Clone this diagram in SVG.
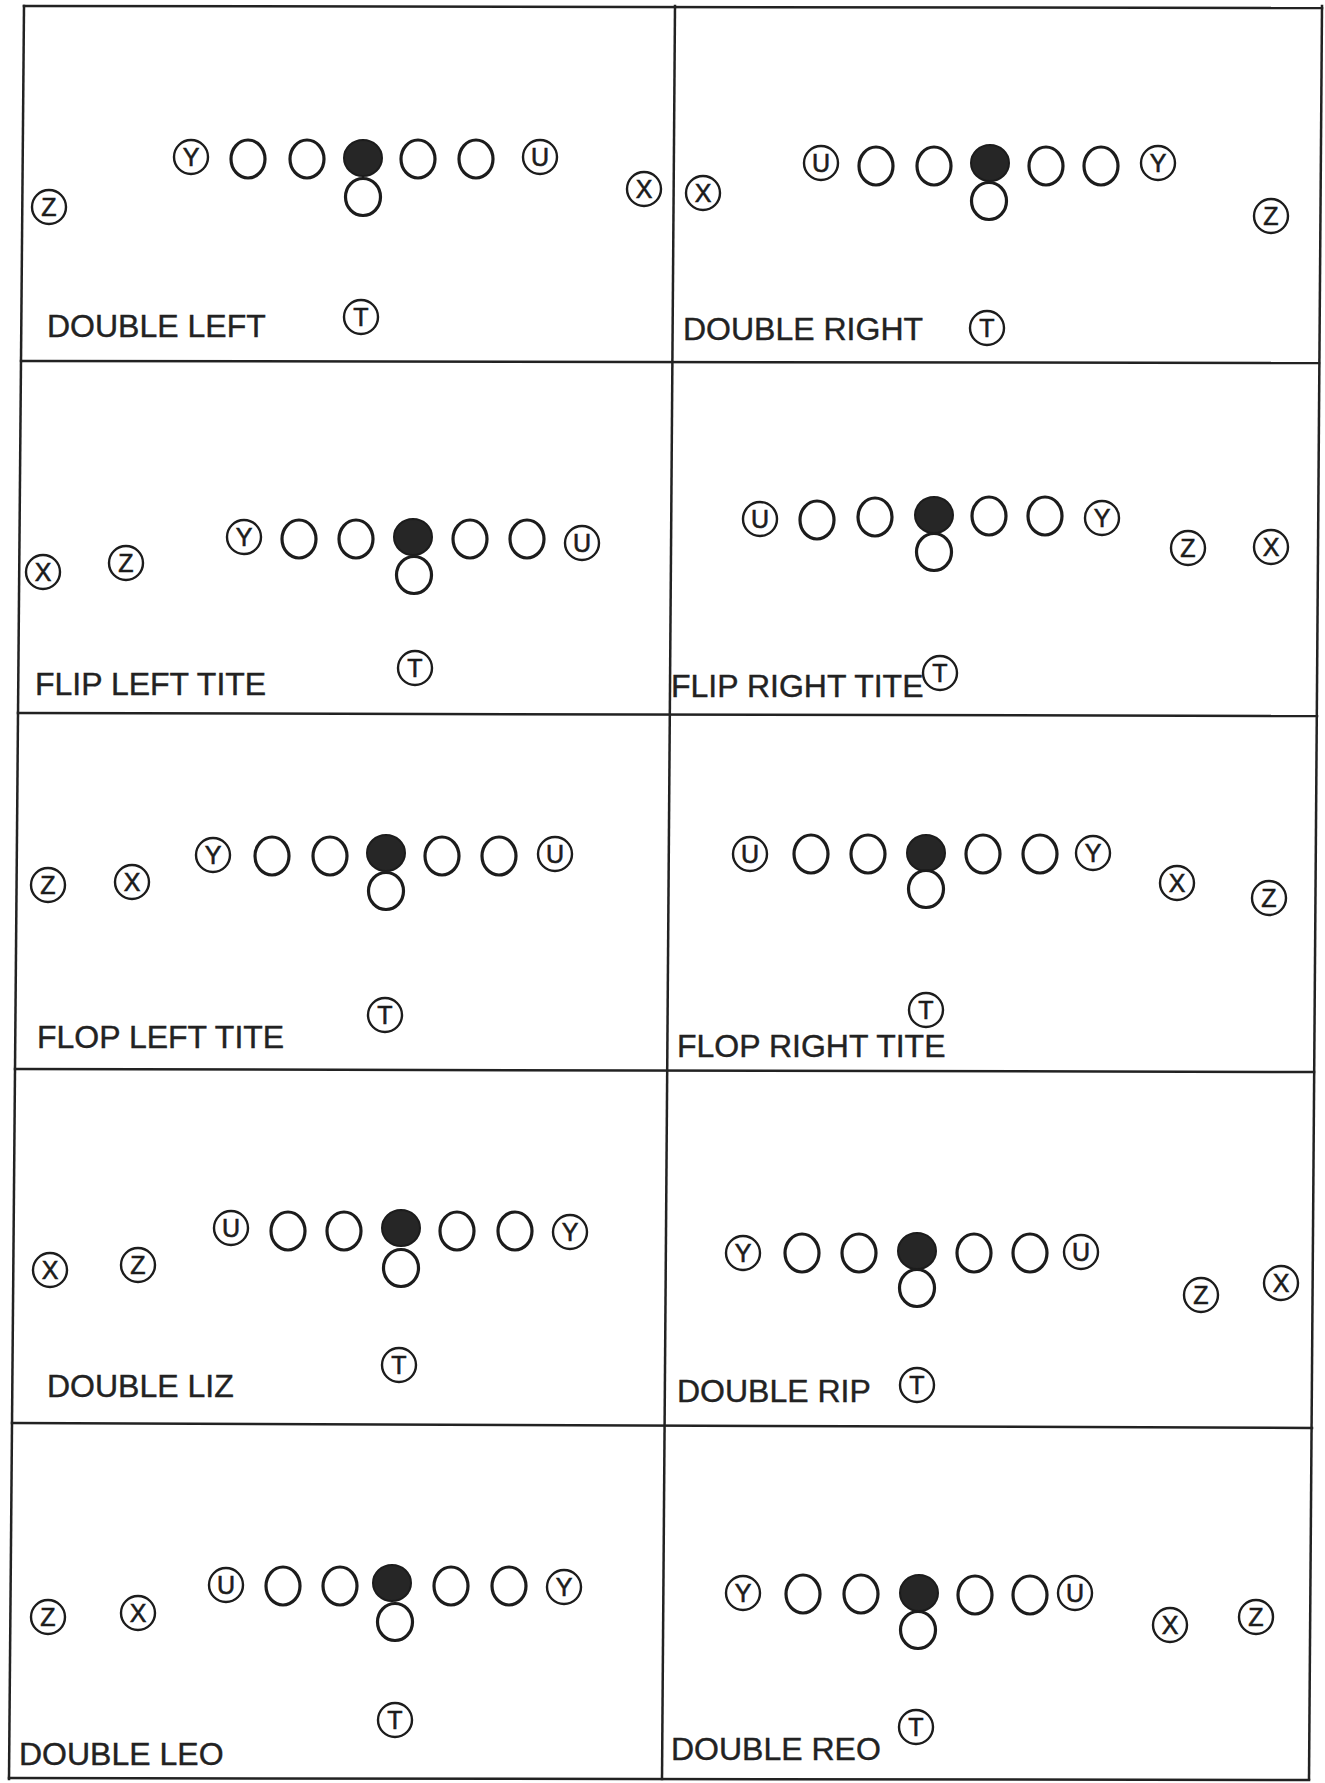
<svg xmlns="http://www.w3.org/2000/svg" width="1325" height="1783" viewBox="0 0 1325 1783">
<style>
.frame{stroke:#222;stroke-width:2.5;fill:none;stroke-linecap:square}
.pl circle{fill:#fff;stroke:#1c1c1c;stroke-width:2.4}
.pl text{font-family:"Liberation Sans Narrow","Liberation Sans",Arial,sans-serif;font-size:25px;fill:#1c1c1c;stroke:#1c1c1c;stroke-width:0.6;text-anchor:middle}
.ol{fill:#fff;stroke:#1c1c1c;stroke-width:3.2}
.c{fill:#262626;stroke:#1c1c1c;stroke-width:2}
.lbl{font-family:"Liberation Sans",Arial,sans-serif;font-size:32px;fill:#222;stroke:#222;stroke-width:0.4}
</style>
<rect width="1325" height="1783" fill="#fff"/>
<g id="frame">
<line class="frame" x1="24" y1="6" x2="9" y2="1779"/>
<line class="frame" x1="675" y1="6" x2="662" y2="1779"/>
<line class="frame" x1="1322" y1="6" x2="1309" y2="1779"/>
<line class="frame" x1="24" y1="6" x2="1322" y2="8"/>
<line class="frame" x1="21" y1="361" x2="1319" y2="363"/>
<line class="frame" x1="18" y1="713" x2="1317" y2="716"/>
<line class="frame" x1="15" y1="1069" x2="1314" y2="1072"/>
<line class="frame" x1="12" y1="1423" x2="1312" y2="1428"/>
<line class="frame" x1="9" y1="1778" x2="1309" y2="1780"/>
</g>
<g id="connectors"/>

<g id="panel-double-left">
<g id="p1-y" class="pl"><circle cx="191" cy="157" r="17"/><text x="191" y="166">Y</text></g>
<g id="p1-ol1"><ellipse class="ol" cx="248" cy="159" rx="17" ry="19"/></g>
<g id="p1-ol2"><ellipse class="ol" cx="307" cy="159" rx="17" ry="19"/></g>
<g id="p1-c"><ellipse class="c" cx="363" cy="158" rx="19" ry="18"/></g>
<g id="p1-ol4"><ellipse class="ol" cx="418" cy="159" rx="17" ry="19"/></g>
<g id="p1-ol5"><ellipse class="ol" cx="476" cy="159" rx="17" ry="19"/></g>
<g id="p1-u" class="pl"><circle cx="540" cy="157" r="17"/><text x="540" y="166">U</text></g>
<g id="p1-qb"><ellipse class="ol" cx="363" cy="197" rx="17.5" ry="18.5"/></g>
<g id="p1-z" class="pl"><circle cx="49" cy="207" r="17"/><text x="49" y="216">Z</text></g>
<g id="p1-x" class="pl"><circle cx="644" cy="189" r="17"/><text x="644" y="198">X</text></g>
<g id="p1-t" class="pl"><circle cx="361" cy="317" r="17"/><text x="361" y="326">T</text></g>
<text class="lbl" x="47" y="337">DOUBLE LEFT</text>
</g>

<g id="panel-double-right">
<g id="p2-u" class="pl"><circle cx="821" cy="163" r="17"/><text x="821" y="172">U</text></g>
<g id="p2-ol1"><ellipse class="ol" cx="876" cy="166" rx="17" ry="19"/></g>
<g id="p2-ol2"><ellipse class="ol" cx="934" cy="166" rx="17" ry="19"/></g>
<g id="p2-c"><ellipse class="c" cx="990" cy="163" rx="19" ry="18"/></g>
<g id="p2-ol4"><ellipse class="ol" cx="1046" cy="166" rx="17" ry="19"/></g>
<g id="p2-ol5"><ellipse class="ol" cx="1101" cy="166" rx="17" ry="19"/></g>
<g id="p2-y" class="pl"><circle cx="1158" cy="163" r="17"/><text x="1158" y="172">Y</text></g>
<g id="p2-qb"><ellipse class="ol" cx="989" cy="201" rx="17.5" ry="18.5"/></g>
<g id="p2-x" class="pl"><circle cx="703" cy="193" r="17"/><text x="703" y="202">X</text></g>
<g id="p2-z" class="pl"><circle cx="1271" cy="216" r="17"/><text x="1271" y="225">Z</text></g>
<g id="p2-t" class="pl"><circle cx="987" cy="328" r="17"/><text x="987" y="337">T</text></g>
<text class="lbl" x="683" y="340">DOUBLE RIGHT</text>
</g>

<g id="panel-flip-left-tite">
<g id="p3-x" class="pl"><circle cx="43" cy="572" r="17"/><text x="43" y="581">X</text></g>
<g id="p3-z" class="pl"><circle cx="126" cy="563" r="17"/><text x="126" y="572">Z</text></g>
<g id="p3-y" class="pl"><circle cx="244" cy="537" r="17"/><text x="244" y="546">Y</text></g>
<g id="p3-ol1"><ellipse class="ol" cx="299" cy="539" rx="17" ry="19"/></g>
<g id="p3-ol2"><ellipse class="ol" cx="356" cy="539" rx="17" ry="19"/></g>
<g id="p3-c"><ellipse class="c" cx="413" cy="537" rx="19" ry="18"/></g>
<g id="p3-ol4"><ellipse class="ol" cx="470" cy="539" rx="17" ry="19"/></g>
<g id="p3-ol5"><ellipse class="ol" cx="527" cy="539" rx="17" ry="19"/></g>
<g id="p3-u" class="pl"><circle cx="582" cy="543" r="17"/><text x="582" y="552">U</text></g>
<g id="p3-qb"><ellipse class="ol" cx="414" cy="575" rx="17.5" ry="18.5"/></g>
<g id="p3-t" class="pl"><circle cx="415" cy="668" r="17"/><text x="415" y="677">T</text></g>
<text class="lbl" x="35" y="695">FLIP LEFT TITE</text>
</g>

<g id="panel-flip-right-tite">
<g id="p4-u" class="pl"><circle cx="760" cy="519" r="17"/><text x="760" y="528">U</text></g>
<g id="p4-ol1"><ellipse class="ol" cx="817" cy="520" rx="17" ry="19"/></g>
<g id="p4-ol2"><ellipse class="ol" cx="875" cy="517" rx="17" ry="19"/></g>
<g id="p4-c"><ellipse class="c" cx="934" cy="515" rx="19" ry="18"/></g>
<g id="p4-ol4"><ellipse class="ol" cx="989" cy="516" rx="17" ry="19"/></g>
<g id="p4-ol5"><ellipse class="ol" cx="1045" cy="516" rx="17" ry="19"/></g>
<g id="p4-y" class="pl"><circle cx="1102" cy="518" r="17"/><text x="1102" y="527">Y</text></g>
<g id="p4-qb"><ellipse class="ol" cx="934" cy="552" rx="17.5" ry="18.5"/></g>
<g id="p4-z" class="pl"><circle cx="1188" cy="548" r="17"/><text x="1188" y="557">Z</text></g>
<g id="p4-x" class="pl"><circle cx="1271" cy="547" r="17"/><text x="1271" y="556">X</text></g>
<g id="p4-t" class="pl"><circle cx="940" cy="673" r="17"/><text x="940" y="682">T</text></g>
<text class="lbl" x="671" y="697">FLIP RIGHT TITE</text>
</g>

<g id="panel-flop-left-tite">
<g id="p5-z" class="pl"><circle cx="48" cy="885" r="17"/><text x="48" y="894">Z</text></g>
<g id="p5-x" class="pl"><circle cx="132" cy="882" r="17"/><text x="132" y="891">X</text></g>
<g id="p5-y" class="pl"><circle cx="213" cy="855" r="17"/><text x="213" y="864">Y</text></g>
<g id="p5-ol1"><ellipse class="ol" cx="272" cy="856" rx="17" ry="19"/></g>
<g id="p5-ol2"><ellipse class="ol" cx="330" cy="856" rx="17" ry="19"/></g>
<g id="p5-c"><ellipse class="c" cx="386" cy="853" rx="19" ry="18"/></g>
<g id="p5-ol4"><ellipse class="ol" cx="442" cy="856" rx="17" ry="19"/></g>
<g id="p5-ol5"><ellipse class="ol" cx="499" cy="856" rx="17" ry="19"/></g>
<g id="p5-u" class="pl"><circle cx="555" cy="854" r="17"/><text x="555" y="863">U</text></g>
<g id="p5-qb"><ellipse class="ol" cx="386" cy="891" rx="17.5" ry="18.5"/></g>
<g id="p5-t" class="pl"><circle cx="385" cy="1015" r="17"/><text x="385" y="1024">T</text></g>
<text class="lbl" x="37" y="1048">FLOP LEFT TITE</text>
</g>

<g id="panel-flop-right-tite">
<g id="p6-u" class="pl"><circle cx="750" cy="854" r="17"/><text x="750" y="863">U</text></g>
<g id="p6-ol1"><ellipse class="ol" cx="811" cy="854" rx="17" ry="19"/></g>
<g id="p6-ol2"><ellipse class="ol" cx="868" cy="854" rx="17" ry="19"/></g>
<g id="p6-c"><ellipse class="c" cx="926" cy="853" rx="19" ry="18"/></g>
<g id="p6-ol4"><ellipse class="ol" cx="983" cy="854" rx="17" ry="19"/></g>
<g id="p6-ol5"><ellipse class="ol" cx="1040" cy="854" rx="17" ry="19"/></g>
<g id="p6-y" class="pl"><circle cx="1093" cy="853" r="17"/><text x="1093" y="862">Y</text></g>
<g id="p6-qb"><ellipse class="ol" cx="926" cy="889" rx="17.5" ry="18.5"/></g>
<g id="p6-x" class="pl"><circle cx="1177" cy="883" r="17"/><text x="1177" y="892">X</text></g>
<g id="p6-z" class="pl"><circle cx="1269" cy="898" r="17"/><text x="1269" y="907">Z</text></g>
<g id="p6-t" class="pl"><circle cx="926" cy="1010" r="17"/><text x="926" y="1019">T</text></g>
<text class="lbl" x="677" y="1057">FLOP RIGHT TITE</text>
</g>

<g id="panel-double-liz">
<g id="p7-x" class="pl"><circle cx="50" cy="1270" r="17"/><text x="50" y="1279">X</text></g>
<g id="p7-z" class="pl"><circle cx="138" cy="1265" r="17"/><text x="138" y="1274">Z</text></g>
<g id="p7-u" class="pl"><circle cx="231" cy="1228" r="17"/><text x="231" y="1237">U</text></g>
<g id="p7-ol1"><ellipse class="ol" cx="288" cy="1231" rx="17" ry="19"/></g>
<g id="p7-ol2"><ellipse class="ol" cx="344" cy="1231" rx="17" ry="19"/></g>
<g id="p7-c"><ellipse class="c" cx="401" cy="1228" rx="19" ry="18"/></g>
<g id="p7-ol4"><ellipse class="ol" cx="457" cy="1231" rx="17" ry="19"/></g>
<g id="p7-ol5"><ellipse class="ol" cx="515" cy="1231" rx="17" ry="19"/></g>
<g id="p7-y" class="pl"><circle cx="570" cy="1232" r="17"/><text x="570" y="1241">Y</text></g>
<g id="p7-qb"><ellipse class="ol" cx="401" cy="1268" rx="17.5" ry="18.5"/></g>
<g id="p7-t" class="pl"><circle cx="399" cy="1365" r="17"/><text x="399" y="1374">T</text></g>
<text class="lbl" x="47" y="1397">DOUBLE LIZ</text>
</g>

<g id="panel-double-rip">
<g id="p8-y" class="pl"><circle cx="743" cy="1253" r="17"/><text x="743" y="1262">Y</text></g>
<g id="p8-ol1"><ellipse class="ol" cx="802" cy="1253" rx="17" ry="19"/></g>
<g id="p8-ol2"><ellipse class="ol" cx="859" cy="1253" rx="17" ry="19"/></g>
<g id="p8-c"><ellipse class="c" cx="917" cy="1251" rx="19" ry="18"/></g>
<g id="p8-ol4"><ellipse class="ol" cx="974" cy="1253" rx="17" ry="19"/></g>
<g id="p8-ol5"><ellipse class="ol" cx="1030" cy="1253" rx="17" ry="19"/></g>
<g id="p8-u" class="pl"><circle cx="1081" cy="1252" r="17"/><text x="1081" y="1261">U</text></g>
<g id="p8-qb"><ellipse class="ol" cx="917" cy="1288" rx="17.5" ry="18.5"/></g>
<g id="p8-z" class="pl"><circle cx="1201" cy="1295" r="17"/><text x="1201" y="1304">Z</text></g>
<g id="p8-x" class="pl"><circle cx="1281" cy="1283" r="17"/><text x="1281" y="1292">X</text></g>
<g id="p8-t" class="pl"><circle cx="917" cy="1385" r="17"/><text x="917" y="1394">T</text></g>
<text class="lbl" x="677" y="1402">DOUBLE RIP</text>
</g>

<g id="panel-double-leo">
<g id="p9-z" class="pl"><circle cx="48" cy="1617" r="17"/><text x="48" y="1626">Z</text></g>
<g id="p9-x" class="pl"><circle cx="138" cy="1613" r="17"/><text x="138" y="1622">X</text></g>
<g id="p9-u" class="pl"><circle cx="226" cy="1585" r="17"/><text x="226" y="1594">U</text></g>
<g id="p9-ol1"><ellipse class="ol" cx="283" cy="1586" rx="17" ry="19"/></g>
<g id="p9-ol2"><ellipse class="ol" cx="340" cy="1586" rx="17" ry="19"/></g>
<g id="p9-c"><ellipse class="c" cx="392" cy="1583" rx="19" ry="18"/></g>
<g id="p9-ol4"><ellipse class="ol" cx="451" cy="1586" rx="17" ry="19"/></g>
<g id="p9-ol5"><ellipse class="ol" cx="509" cy="1586" rx="17" ry="19"/></g>
<g id="p9-y" class="pl"><circle cx="564" cy="1587" r="17"/><text x="564" y="1596">Y</text></g>
<g id="p9-qb"><ellipse class="ol" cx="395" cy="1622" rx="17.5" ry="18.5"/></g>
<g id="p9-t" class="pl"><circle cx="395" cy="1720" r="17"/><text x="395" y="1729">T</text></g>
<text class="lbl" x="19" y="1765">DOUBLE LEO</text>
</g>

<g id="panel-double-reo">
<g id="p10-y" class="pl"><circle cx="743" cy="1593" r="17"/><text x="743" y="1602">Y</text></g>
<g id="p10-ol1"><ellipse class="ol" cx="803" cy="1594" rx="17" ry="19"/></g>
<g id="p10-ol2"><ellipse class="ol" cx="861" cy="1594" rx="17" ry="19"/></g>
<g id="p10-c"><ellipse class="c" cx="919" cy="1593" rx="19" ry="18"/></g>
<g id="p10-ol4"><ellipse class="ol" cx="975" cy="1595" rx="17" ry="19"/></g>
<g id="p10-ol5"><ellipse class="ol" cx="1030" cy="1595" rx="17" ry="19"/></g>
<g id="p10-u" class="pl"><circle cx="1075" cy="1593" r="17"/><text x="1075" y="1602">U</text></g>
<g id="p10-qb"><ellipse class="ol" cx="918" cy="1630" rx="17.5" ry="18.5"/></g>
<g id="p10-x" class="pl"><circle cx="1170" cy="1625" r="17"/><text x="1170" y="1634">X</text></g>
<g id="p10-z" class="pl"><circle cx="1256" cy="1617" r="17"/><text x="1256" y="1626">Z</text></g>
<g id="p10-t" class="pl"><circle cx="916" cy="1727" r="17"/><text x="916" y="1736">T</text></g>
<text class="lbl" x="671" y="1760">DOUBLE REO</text>
</g>
</svg>
